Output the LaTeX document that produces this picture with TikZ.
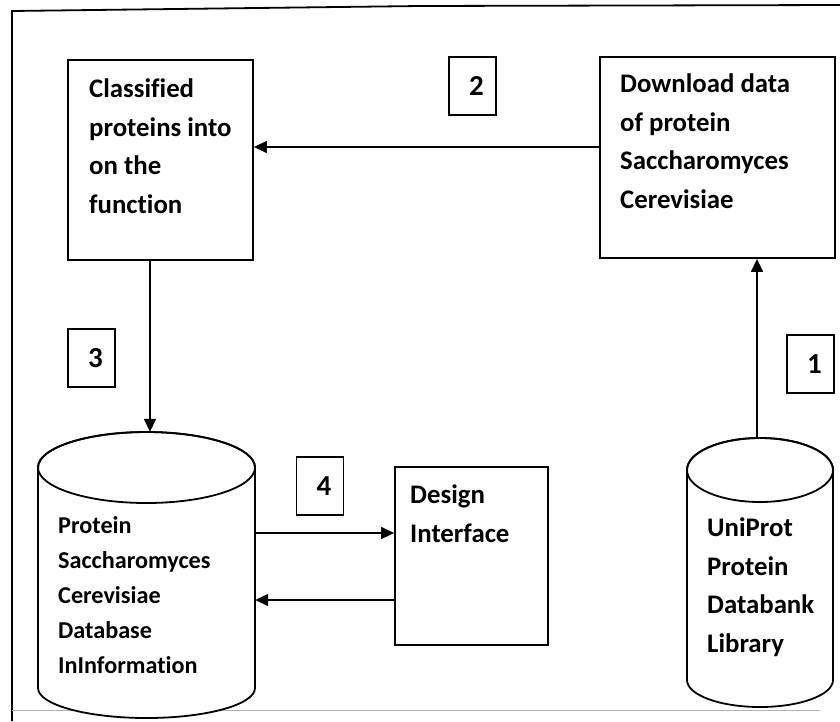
\documentclass[tikz,border=0pt]{standalone}
\usepackage{fontspec}
\setmainfont{Carlito}[Ligatures=NoCommon]
\usetikzlibrary{arrows.meta}
\begin{document}
\begin{tikzpicture}[x=1pt,y=-1pt,
  ln/.style={line width=1.8pt, black},
  box/.style={draw, line width=1.8pt, rectangle, inner sep=0pt},
  arr/.style={line width=1.5pt, -{Triangle[length=13pt,width=12pt]}},
  txt/.style={font=\fontsize{26.8}{38.5}\selectfont\bfseries, align=left, inner sep=0pt, anchor=base west},
  dbtxt/.style={font=\fontsize{24.2}{35}\selectfont\bfseries, align=left, inner sep=0pt, anchor=base west},
  num/.style={box, minimum width=47pt, minimum height=58pt, font=\fontsize{29}{30}\selectfont\bfseries}
]
\useasboundingbox (0,0) rectangle (840,721);
% frame
\draw[ln] (12,721) -- (12,11) -- (420,6) -- (840,5);
\draw[line width=1pt, gray!60] (12,710) -- (820,710);

% boxes
\node[box, minimum width=185pt, minimum height=200pt] (cls) at (160.5,160) {};
\node[txt] (clst) at (89,213) {Classified\\proteins into\\on the\\function};
\node[box, minimum width=235pt, minimum height=201pt] (dl) at (717.5,157.5) {};
\node[txt] (dlt) at (620,208) {Download data\\of protein\\Saccharomyces\\Cerevisiae};
\node[box, minimum width=153pt, minimum height=178pt] (di) at (471.5,556) {};
\node[txt] (dit) at (410,542) {Design\\Interface};

% number boxes
\node[num] (n2) at (472.5,86) {\hspace*{8pt}2};
\node[num] (n3) at (91.5,358) {\hspace*{8pt}3};
\node[num] (n4) at (320,486) {\hspace*{8pt}4};
\node[num] (n1) at (810.5,364) {\hspace*{8pt}1};

% left cylinder
\node[inner sep=0pt, minimum width=217pt, minimum height=256pt] (dbl) at (146.5,560) {};
\filldraw[ln, fill=white] (38,467.5) -- (38,688) arc[start angle=180, end angle=0, x radius=108.5, y radius=30] -- (255,467.5) arc[start angle=0, end angle=-180, x radius=108.5, y radius=35.5] -- cycle;
\draw[ln] (146.5,467.5) ellipse[x radius=108.5, y radius=35.5];
\node[dbtxt] (dblt) at (58,673) {Protein\\Saccharomyces\\Cerevisiae\\Database\\InInformation};

% right cylinder
\node[inner sep=0pt, minimum width=146pt, minimum height=269pt] (dbr) at (760,572.5) {};
\filldraw[ln, fill=white] (687,470) -- (687,680) arc[start angle=180, end angle=0, x radius=73, y radius=27] -- (833,470) arc[start angle=0, end angle=-180, x radius=73, y radius=32] -- cycle;
\draw[ln] (760,470) ellipse[x radius=73, y radius=32];
\node[txt] (dbrt) at (707,652) {UniProt\\Protein\\Databank\\Library};

% connectors
\draw[arr] (dl.west |- 0,147) -- (cls.east |- 0,147);
\draw[arr] (cls.south -| 150,0) -- (dbl.north -| 150,0);
\draw[arr] (dbr.north -| 757,0) -- (dl.south -| 757,0);
\draw[arr] (dbl.east |- 0,533) -- (di.west |- 0,533);
\draw[arr] (di.west |- 0,600) -- (dbl.east |- 0,600);
\end{tikzpicture}
\end{document}
